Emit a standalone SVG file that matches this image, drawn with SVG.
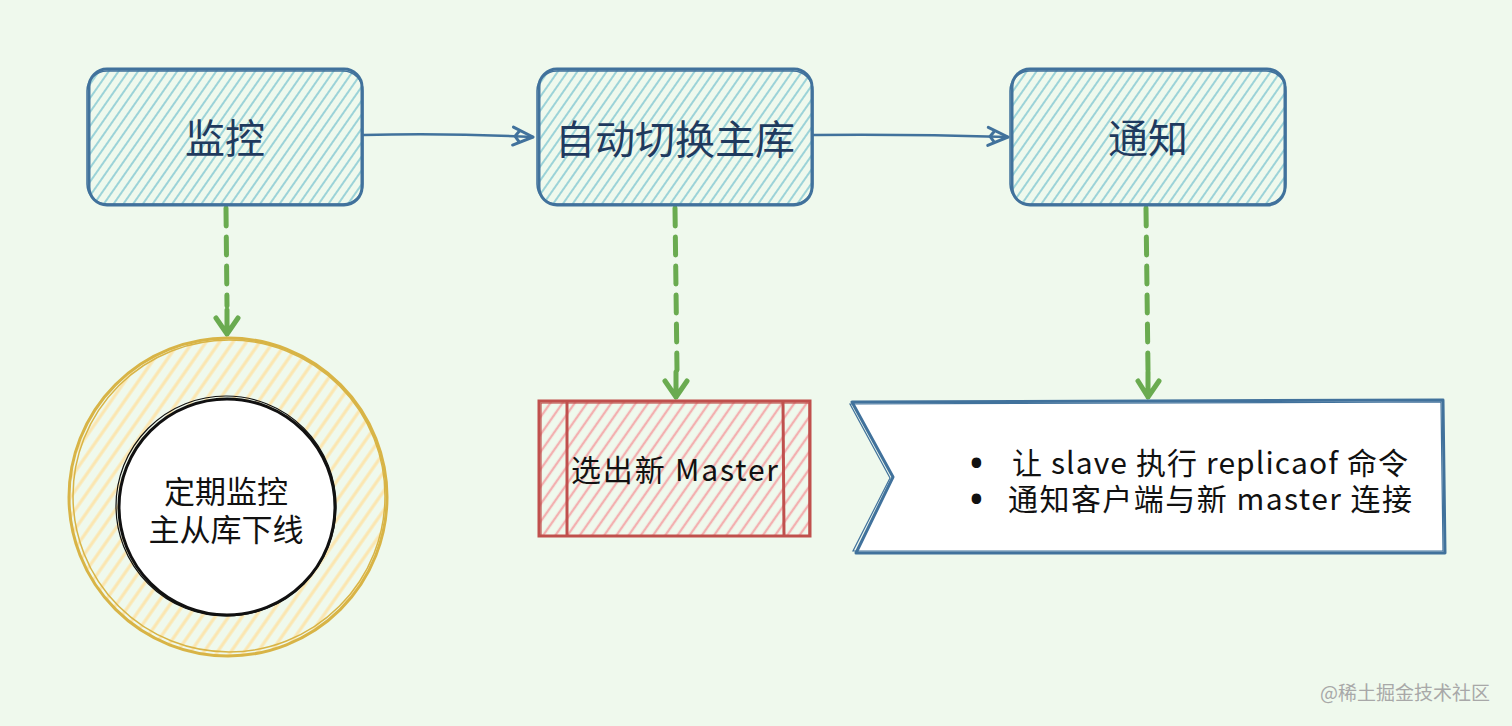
<svg xmlns="http://www.w3.org/2000/svg" width="1512" height="726" viewBox="0 0 1512 726">
<defs>
<pattern id="hBlue" patternUnits="userSpaceOnUse" width="8" height="8" patternTransform="rotate(35)">
<line x1="2" y1="0" x2="2" y2="8" stroke="#9cd3d8" stroke-width="2"/>
</pattern>
<pattern id="hRed" patternUnits="userSpaceOnUse" width="10" height="10" patternTransform="rotate(35)">
<line x1="2" y1="0" x2="2" y2="10" stroke="#f3b0b0" stroke-width="2.4"/>
</pattern>
<pattern id="hYel" patternUnits="userSpaceOnUse" width="11" height="11" patternTransform="rotate(35)">
<line x1="2" y1="0" x2="2" y2="11" stroke="#fbe6b0" stroke-width="3.2"/>
</pattern>
<marker id="aBlue" markerUnits="userSpaceOnUse" markerWidth="30" markerHeight="30" refX="24" refY="12" orient="auto">
<path d="M4,3 L24,12 L4,21 M10,7 L6,12 L10,17" fill="none" stroke="#41729c" stroke-width="3" stroke-linejoin="round" stroke-linecap="round"/>
</marker>
</defs>
<style>
.bx{fill:url(#hBlue);stroke:#41729c;stroke-width:3}
.bx2{fill:none;stroke:#41729c;stroke-width:1.5}
.t1{font-family:"Noto Sans CJK SC","Noto Sans",sans-serif;font-size:40px;fill:#1f3a5e;text-anchor:middle}
.t2{font-family:"Noto Sans CJK SC","Noto Sans",sans-serif;font-size:31px;fill:#111;text-anchor:middle}
.t3{font-family:"Noto Sans CJK SC","Noto Sans",sans-serif;font-size:30px;fill:#111}
.bul{font-family:"Noto Sans",sans-serif;font-size:34px;font-weight:bold;fill:#111}
.con{fill:none;stroke:#41729c;stroke-width:2.5;stroke-linecap:round}
.dash{fill:none;stroke:#6aab50;stroke-width:5;stroke-dasharray:18 11;stroke-linecap:round}
.ah{fill:none;stroke:#6aab50;stroke-width:5;stroke-linecap:round;stroke-linejoin:round}
</style>
<rect width="1512" height="726" fill="#eff9ed"/>

<g id="connectors">
<path class="con" d="M363,135 Q450,133 533,137" marker-end="url(#aBlue)"/>
<path class="con" d="M813,135 Q910,134 1008,137" marker-end="url(#aBlue)"/>
<path class="dash" d="M226,208 L227,306"/>
<path class="ah" d="M216,318 L227,334 L238,318 M227,334 L227,310"/>
<path class="dash" d="M675,208 L677,370"/>
<path class="ah" d="M665,381 L676,397 L687,381 M676,397 L676,372"/>
<path class="dash" d="M1146,208 L1148,370"/>
<path class="ah" d="M1138,381 L1148,397 L1159,381 M1148,397 L1148,372"/>
</g>

<g id="node-monitor">
<rect class="bx" x="89" y="69" width="273" height="136" rx="18"/>
<rect class="bx2" x="87" y="71" width="276" height="133" rx="20"/>
<text class="t1" x="225" y="153">监控</text>
</g>

<g id="node-switch">
<rect class="bx" x="539" y="69" width="273" height="136" rx="18"/>
<rect class="bx2" x="537" y="71" width="276" height="133" rx="20"/>
<text class="t1" x="675" y="154">自动切换主库</text>
</g>

<g id="node-notify">
<rect class="bx" x="1012" y="69" width="273" height="136" rx="18"/>
<rect class="bx2" x="1010" y="71" width="276" height="133" rx="20"/>
<text class="t1" x="1148" y="153">通知</text>
</g>

<g id="node-periodic">
<circle cx="228" cy="497" r="159" fill="url(#hYel)" stroke="#d8b446" stroke-width="3"/>
<circle cx="229" cy="496" r="156" fill="none" stroke="#d8b446" stroke-width="1.5"/>
<circle cx="227" cy="507" r="108" fill="#ffffff" stroke="#111" stroke-width="3"/>
<circle cx="226" cy="506" r="110" fill="none" stroke="#111" stroke-width="1.2"/>
<text class="t2" x="226" y="503">定期监控</text>
<text class="t2" x="226" y="541">主从库下线</text>
</g>

<g id="node-elect">
<rect x="539" y="401" width="271" height="135" fill="url(#hRed)" stroke="#c0504d" stroke-width="3"/>
<rect x="541" y="403" width="268" height="133" fill="none" stroke="#c0504d" stroke-width="1.2"/>
<line x1="567" y1="401" x2="567" y2="536" stroke="#c0504d" stroke-width="3"/>
<line x1="783" y1="401" x2="784" y2="536" stroke="#c0504d" stroke-width="3"/>
<text class="t3" x="571" y="481" font-size="31" textLength="207" lengthAdjust="spacing">选出新 Master</text>
</g>

<g id="node-notify-detail">
<path d="M852,402 L1443,400 L1445,553 L856,553 L893,477 Z" fill="#ffffff" stroke="#41729c" stroke-width="3" stroke-linejoin="round"/>
<path d="M850,404 L1441,402 L1443,551 L853,551 L890,478 Z" fill="none" stroke="#41729c" stroke-width="1.2"/>
<text class="bul" x="970" y="475">•</text>
<text class="t3" x="1012" y="474" textLength="396" lengthAdjust="spacing">让 slave 执行 replicaof 命令</text>
<text class="bul" x="970" y="511">•</text>
<text class="t3" x="1008" y="510" textLength="404" lengthAdjust="spacing">通知客户端与新 master 连接</text>
</g>

<text x="1490" y="700" font-family="Noto Sans CJK SC, sans-serif" font-size="19" fill="#a8a8a8" text-anchor="end">@稀土掘金技术社区</text>
</svg>
